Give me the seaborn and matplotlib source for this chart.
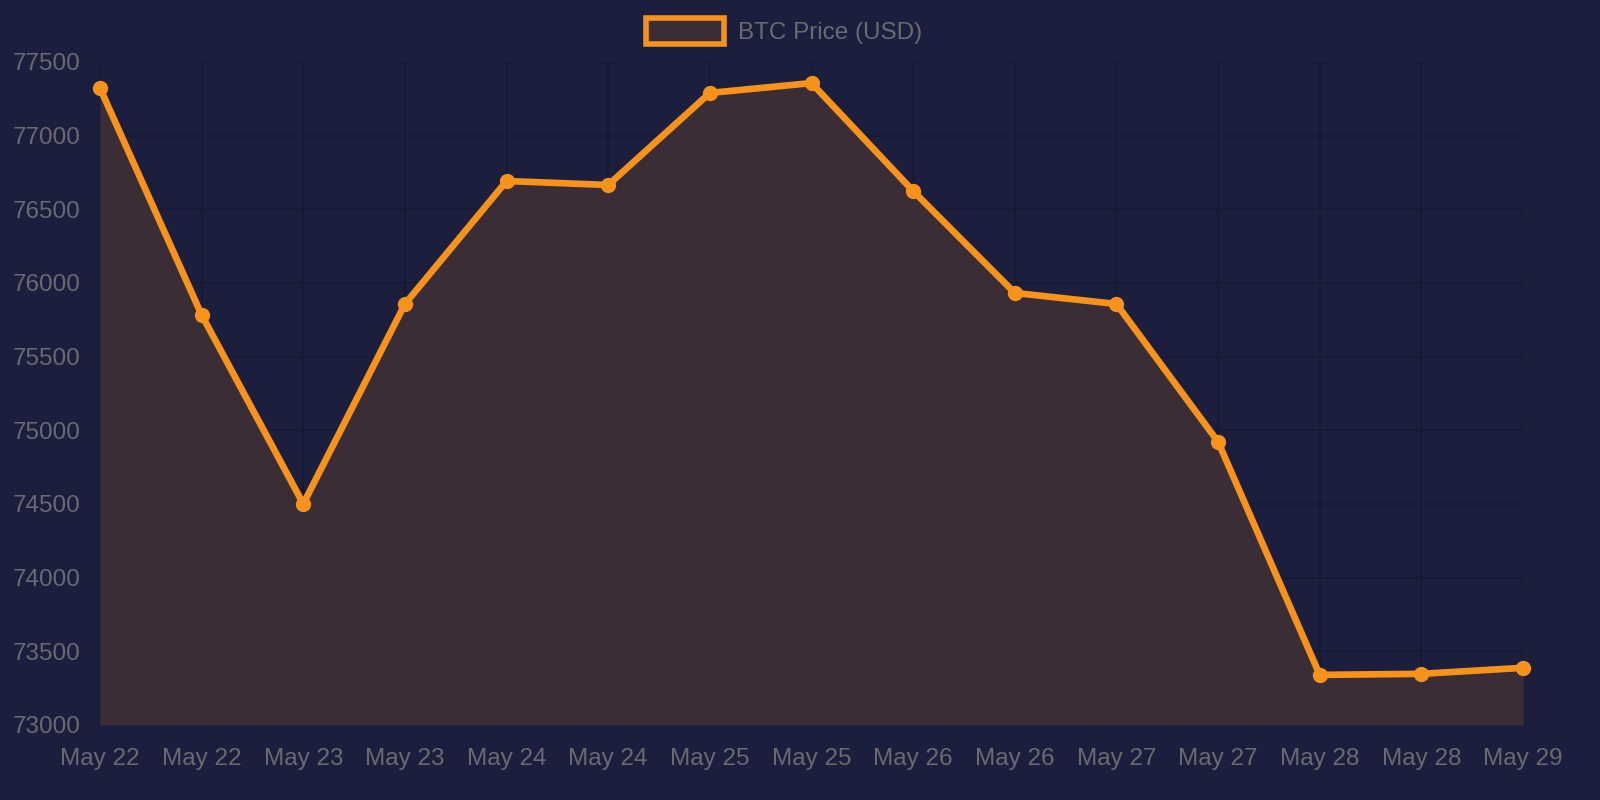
import numpy as np
import pandas as pd
import seaborn as sns
import matplotlib.pyplot as plt
from matplotlib.patches import Patch

labels = ['May 22', 'May 22', 'May 23', 'May 23', 'May 24', 'May 24', 'May 25', 'May 25',
          'May 26', 'May 26', 'May 27', 'May 27', 'May 28', 'May 28', 'May 29']
prices = [77323, 75783, 74500, 75857, 76692, 76665, 77290, 77357,
          76624, 75932, 75857, 74921, 73339, 73346, 73387]
yticks = [73000, 73500, 74000, 74500, 75000, 75500, 76000, 76500, 77000, 77500]

bg = '#1b1f3d'
orange = '#f7931a'
fill = '#3a2d35'
grid = '#151934'
txt = '#6a6a70'

df = pd.DataFrame({'idx': np.arange(len(prices)), 'price': prices})

sns.set_theme(style='dark')
plt.rcParams['font.family'] = ['Liberation Sans', 'DejaVu Sans']

fig = plt.figure(figsize=(16, 8), dpi=100, facecolor=bg)
ax = fig.add_axes([0.0625, 0.094, 0.8894, 0.8285])
ax.set_facecolor(bg)

# filled area under the price line
ax.fill_between(df['idx'], df['price'], 73000, color=fill, zorder=2, linewidth=0)
sns.lineplot(data=df, x='idx', y='price', ax=ax, color=orange, linewidth=4.8,
             marker='o', markersize=11, markeredgewidth=0, zorder=3, clip_on=False)

ax.set_xlim(0, len(prices) - 1)
ax.set_ylim(73000, 77500)
ax.set_xticks(df['idx'])
ax.set_xticklabels(labels)
ax.set_yticks(yticks)
ax.set_xlabel('')
ax.set_ylabel('')

ax.grid(True, color=grid, linewidth=1.2, zorder=1)
ax.set_axisbelow(True)
for s in ax.spines.values():
    s.set_visible(False)
ax.tick_params(axis='both', colors=grid, labelcolor=txt, labelsize=17.5,
               length=9, width=1.2, pad=5)
ax.tick_params(axis='x', pad=8)

handle = Patch(facecolor=fill, edgecolor=orange, linewidth=4)
leg = fig.legend([handle], ['BTC Price (USD)'], loc='center', bbox_to_anchor=(0.49, 0.961),
                 frameon=False, fontsize=17.5, handlelength=3.2, handleheight=1.3,
                 handletextpad=0.55)
for t in leg.get_texts():
    t.set_color(txt)

fig.savefig('out.png', dpi=100, facecolor=bg)
